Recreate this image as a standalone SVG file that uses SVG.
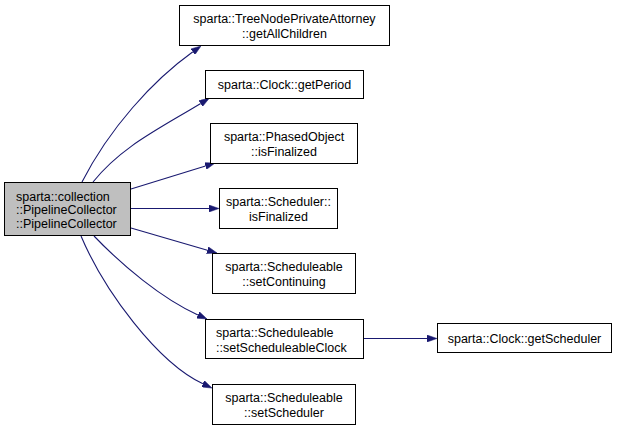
<svg xmlns="http://www.w3.org/2000/svg" width="621" height="431" viewBox="0 0 621 431">
<style>
.box{fill:#ffffff;stroke:#000000;stroke-width:1}
.main{fill:#bfbfbf;stroke:#000000;stroke-width:1}
text{font-family:"Liberation Sans",Arial,sans-serif;font-size:12.5px;fill:#000000}
.c{text-anchor:middle}
.e{fill:none;stroke:#191970;stroke-width:1.1}
</style>
<defs>
<marker id="ah" viewBox="0 0 10 7" refX="0" refY="3.5" markerWidth="10" markerHeight="7" markerUnits="userSpaceOnUse" orient="auto">
<path d="M0,0 L10,3.5 L0,7 z" fill="#191970" stroke="#191970" stroke-width="0.5"/>
</marker>
</defs>
<rect width="621" height="431" fill="#ffffff"/>
<g id="connectors">
<path class="e" marker-end="url(#ah)" d="M82,182 C109.3,128.6 152.4,80.8 192.9,51.8"/>
<path class="e" marker-end="url(#ah)" d="M93,182 C121,147 157.7,129.5 200.7,103.5"/>
<path class="e" marker-end="url(#ah)" d="M131,189 L205.5,166"/>
<path class="e" marker-end="url(#ah)" d="M131,208.5 L209,208.5"/>
<path class="e" marker-end="url(#ah)" d="M131,228 L207.4,250.2"/>
<path class="e" marker-end="url(#ah)" d="M94,236 C121.6,264.8 161.5,298.5 197.9,314.9"/>
<path class="e" marker-end="url(#ah)" d="M81,236 C104.4,291.2 157.6,362.6 202.9,383.8"/>
<path class="e" marker-end="url(#ah)" d="M363.5,338.5 L427,338.5"/>
</g>
<g id="node-main">
<rect class="main" x="4.5" y="182.5" width="126" height="53"/>
<text x="16" y="200.5">sparta::collection</text>
<text x="16" y="214">::PipelineCollector</text>
<text x="16" y="227.5">::PipelineCollector</text>
</g>
<g id="node-getAllChildren">
<rect class="box" x="179.5" y="5.5" width="210" height="40"/>
<text class="c" x="284.5" y="23">sparta::TreeNodePrivateAttorney</text>
<text class="c" x="284.5" y="38">::getAllChildren</text>
</g>
<g id="node-getPeriod">
<rect class="box" x="205.5" y="70.5" width="158" height="28"/>
<text class="c" x="284.5" y="89">sparta::Clock::getPeriod</text>
</g>
<g id="node-phased-isFinalized">
<rect class="box" x="210.5" y="123.5" width="147" height="40"/>
<text class="c" x="284" y="141">sparta::PhasedObject</text>
<text class="c" x="284" y="156">::isFinalized</text>
</g>
<g id="node-scheduler-isFinalized">
<rect class="box" x="219.5" y="188.5" width="118" height="40"/>
<text class="c" x="278.5" y="206">sparta::Scheduler::</text>
<text class="c" x="278.5" y="221">isFinalized</text>
</g>
<g id="node-setContinuing">
<rect class="box" x="212.5" y="253.5" width="143" height="40"/>
<text class="c" x="284" y="271">sparta::Scheduleable</text>
<text class="c" x="284" y="286">::setContinuing</text>
</g>
<g id="node-setScheduleableClock">
<rect class="box" x="205.5" y="319.5" width="158" height="39"/>
<text x="216" y="336.5">sparta::Scheduleable</text>
<text x="216" y="351.5">::setScheduleableClock</text>
</g>
<g id="node-setScheduler">
<rect class="box" x="212.5" y="384.5" width="143" height="40"/>
<text class="c" x="284" y="402">sparta::Scheduleable</text>
<text class="c" x="284" y="417">::setScheduler</text>
</g>
<g id="node-getScheduler">
<rect class="box" x="437.5" y="323.5" width="174" height="29"/>
<text class="c" x="524.5" y="342.5">sparta::Clock::getScheduler</text>
</g>
</svg>
